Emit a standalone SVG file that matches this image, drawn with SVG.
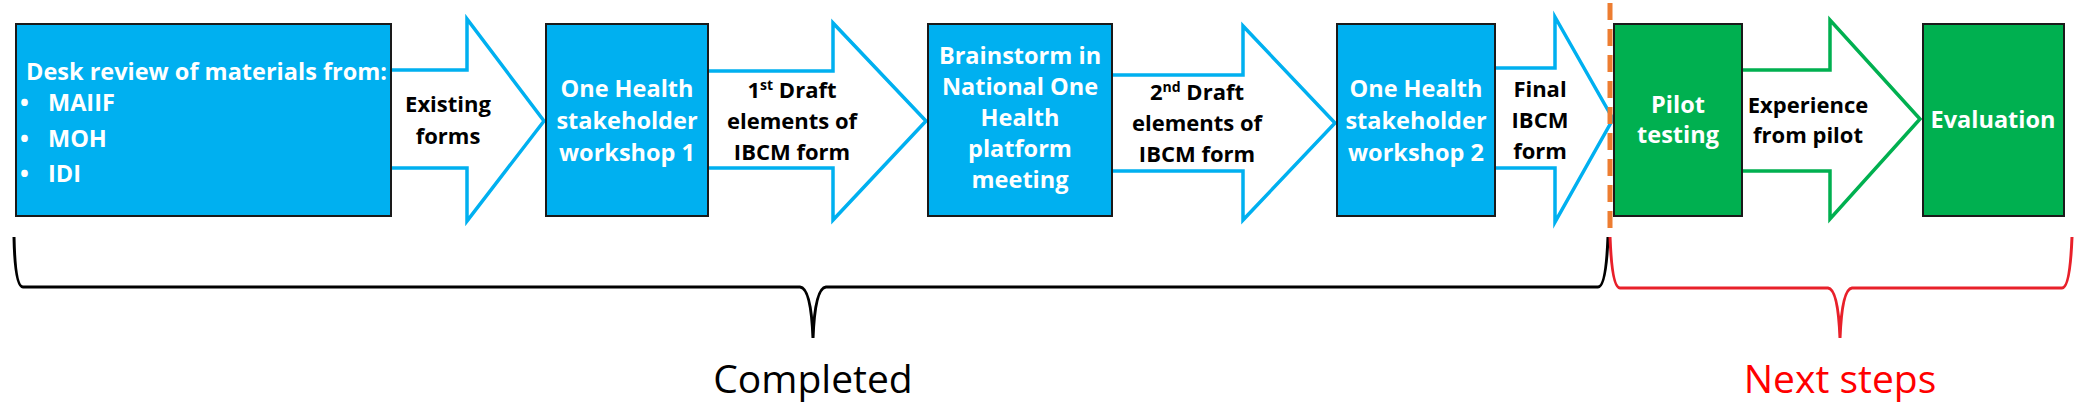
<svg xmlns="http://www.w3.org/2000/svg" width="2081" height="409" viewBox="0 0 2081 409">
<style>
.box{stroke:#1a1a1a;stroke-width:2}
.blue{fill:#00B0F0}
.green{fill:#00B050}
.arr{fill:#ffffff;stroke-width:3.5;stroke-linejoin:miter}
.ab{stroke:#00B0F0}
.ag{stroke:#00B050}
text{font-family:"Open Sans","Liberation Sans",sans-serif;font-size:22px;font-weight:bold}
.w{fill:#ffffff;font-size:23.5px}
.k{fill:#000000}
.c{text-anchor:middle}
.lbl{font-weight:normal;font-size:39px;text-anchor:middle}
</style>
<rect width="2081" height="409" fill="#ffffff"/>
<g id="connectors">
<polygon class="arr ab" points="385,70 467,70 467,19 544,121 467,221 467,168 385,168"/>
<polygon class="arr ab" points="702,71 833,71 833,23 926,121 833,220 833,168 702,168"/>
<polygon class="arr ab" points="1106,75 1243,75 1243,26 1335,123 1243,220 1243,171 1106,171"/>
<polygon class="arr ab" points="1489,68 1555,68 1555,17 1613,119 1555,222 1555,168 1489,168"/>
<polygon class="arr ag" points="1736,70 1830,70 1830,20 1920,119 1830,219 1830,171 1736,171"/>
</g>
<g id="n-desk">
<rect class="box blue" x="16" y="24" width="375" height="192"/>
<text class="w" x="26" y="80">Desk review of materials from:</text>
<text class="w" x="20" y="111">•</text><text class="w" x="48" y="111">MAIIF</text>
<text class="w" x="20" y="147">•</text><text class="w" x="48" y="147">MOH</text>
<text class="w" x="20" y="182">•</text><text class="w" x="48" y="182">IDI</text>
</g>
<g id="e-existing">
<text class="k c" x="448" y="112">Existing</text>
<text class="k c" x="448" y="144">forms</text>
</g>
<g id="n-ws1">
<rect class="box blue" x="546" y="24" width="162" height="192"/>
<text class="w c" x="627" y="97">One Health</text>
<text class="w c" x="627" y="129">stakeholder</text>
<text class="w c" x="627" y="161">workshop 1</text>
</g>
<g id="e-draft1">
<text class="k c" x="792" y="98">1<tspan font-size="14" dy="-8">st</tspan><tspan dy="8"> Draft</tspan></text>
<text class="k c" x="792" y="129">elements of</text>
<text class="k c" x="792" y="160">IBCM form</text>
</g>
<g id="n-brainstorm">
<rect class="box blue" x="928" y="24" width="184" height="192"/>
<text class="w c" x="1020" y="64">Brainstorm in</text>
<text class="w c" x="1020" y="95">National One</text>
<text class="w c" x="1020" y="126">Health</text>
<text class="w c" x="1020" y="157">platform</text>
<text class="w c" x="1020" y="188">meeting</text>
</g>
<g id="e-draft2">
<text class="k c" x="1197" y="100">2<tspan font-size="14" dy="-8">nd</tspan><tspan dy="8"> Draft</tspan></text>
<text class="k c" x="1197" y="131">elements of</text>
<text class="k c" x="1197" y="162">IBCM form</text>
</g>
<g id="n-ws2">
<rect class="box blue" x="1337" y="24" width="158" height="192"/>
<text class="w c" x="1416" y="97">One Health</text>
<text class="w c" x="1416" y="129">stakeholder</text>
<text class="w c" x="1416" y="161">workshop 2</text>
</g>
<g id="e-final">
<text class="k c" x="1540" y="97">Final</text>
<text class="k c" x="1540" y="128">IBCM</text>
<text class="k c" x="1540" y="159">form</text>
</g>
<g id="n-pilot">
<rect class="box green" x="1614" y="24" width="128" height="192"/>
<text class="w c" x="1678" y="113">Pilot</text>
<text class="w c" x="1678" y="143">testing</text>
</g>
<g id="e-experience">
<text class="k c" x="1808" y="113">Experience</text>
<text class="k c" x="1808" y="143">from pilot</text>
</g>
<g id="n-eval">
<rect class="box green" x="1923" y="24" width="141" height="192"/>
<text class="w c" x="1993" y="128">Evaluation</text>
</g>
<g id="divider">
<line x1="1610" y1="3" x2="1610" y2="232" stroke="#ED7D31" stroke-width="5" stroke-dasharray="17 9"/>
</g>
<g id="brace-completed">
<path d="M14,237 Q15,287 23,287 L800,287 Q811,288 813,338 Q815,288 826,287 L1598,287 Q1606,287 1608,237" fill="none" stroke="#000000" stroke-width="3"/>
<text class="lbl k" x="813" y="393">Completed</text>
</g>
<g id="brace-next">
<path d="M1610,237 Q1612,288 1620,288 L1828,288 Q1838,289 1840,338 Q1842,289 1852,288 L2062,288 Q2070,288 2072,237" fill="none" stroke="#E8202A" stroke-width="3"/>
<text class="lbl" fill="#FF0000" x="1840" y="393">Next steps</text>
</g>
</svg>
